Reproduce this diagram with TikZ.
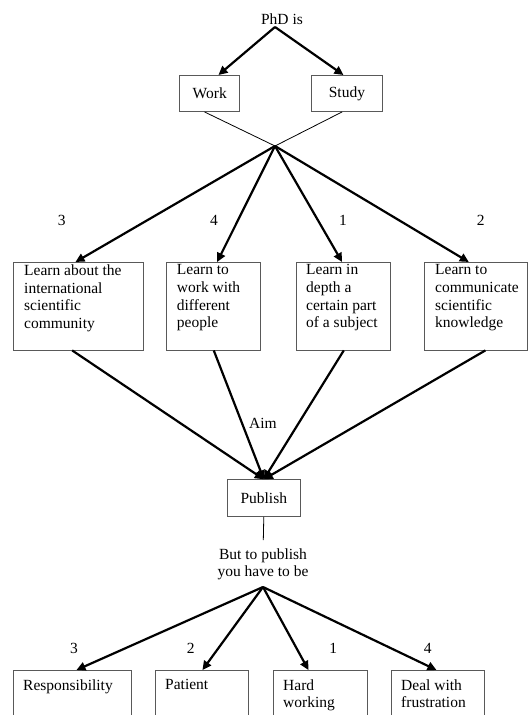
\documentclass[tikz,border=0pt]{standalone}
\usepackage{fontspec}
\setmainfont{Liberation Serif}
\usetikzlibrary{arrows.meta}
\begin{document}
\begin{tikzpicture}[x=1pt,y=-1pt,
  bx/.style={draw=black!65, line width=0.9pt, inner sep=0pt, anchor=north west, font=\fontsize{15.5}{17.6}\selectfont},
  txt/.style={inner sep=0pt, font=\fontsize{15.5}{17.6}\selectfont, align=left, anchor=north west},
  lbl/.style={inner sep=0pt, font=\fontsize{15.5}{17.6}\selectfont, anchor=base},
  arr/.style={line width=2.2pt, -{Triangle[length=9pt,width=8.5pt]}},
  thinline/.style={line width=0.8pt}]
\useasboundingbox (0,0) rectangle (528,715);
\clip (0,0) rectangle (528,715);
% top
\node[lbl] (phd) at (282,24) {PhD is};
\coordinate (h1) at (275,27);
\node[bx, minimum width=60pt, minimum height=36pt] (work) at (179.3,75) {Work};
\node[bx, minimum width=71.6pt, minimum height=36pt] (study) at (310.7,75) {Study};
\draw[arr] (h1) -- ([xshift=8.7pt]work.north);
\draw[arr] (h1) -- ([xshift=-3.5pt]study.north);
\coordinate (h2) at (275,146);
\draw[thinline] ([xshift=-5.3pt]work.south) -- (h2);
\draw[thinline] ([xshift=-4.8pt]study.south) -- (h2);
% numbers row 1
\node[lbl] (n1) at (61.7,225) {3};
\node[lbl] (n2) at (214,225) {4};
\node[lbl] (n3) at (343,225) {1};
\node[lbl] (n4) at (480.7,225) {2};
% big boxes
\node[bx, minimum width=130pt, minimum height=87.5pt] (b1) at (13.3,262) {};
\node[bx, minimum width=94.6pt, minimum height=87.5pt] (b2) at (165.7,262) {};
\node[bx, minimum width=94.3pt, minimum height=87.5pt] (b3) at (295.7,262) {};
\node[bx, minimum width=102.7pt, minimum height=87.5pt] (b4) at (424,262) {};
\node[txt] (t1) at (24,264.5) {Learn about the\\international\\scientific\\community};
\node[txt] (t2) at (176.7,264.5) {Learn to\\work with\\different\\people};
\node[txt] (t3) at (306,264.5) {Learn in\\depth a\\certain part\\of a subject};
\node[txt] (t4) at (435,264.5) {Learn to\\communicate\\scientific\\knowledge};
\draw[arr] (h2) -- ([xshift=-3.3pt]b1.north);
\draw[arr] (h2) -- ([xshift=3.7pt]b2.north);
\draw[arr] (h2) -- ([xshift=-1.2pt]b3.north);
\draw[arr] (h2) -- ([xshift=-7pt]b4.north);
% publish
\node[lbl] (aim) at (263,428) {Aim};
\node[bx, minimum width=73.3pt, minimum height=36.7pt] (pub) at (226.7,479.3) {Publish};
\draw[arr] ([xshift=-6.6pt]b1.south) -- (pub.north);
\draw[arr] ([xshift=0.3pt]b2.south) -- (pub.north);
\draw[arr] ([xshift=0.5pt]b3.south) -- (pub.north);
\draw[arr] ([xshift=9.6pt]b4.south) -- (pub.north);
\coordinate (h3) at (263.3,540);
\draw[thinline] (pub.south) -- (h3);
\node[inner sep=0pt, font=\fontsize{15.5}{17.6}\selectfont, align=center, anchor=north] (but) at (263,548.4) {But to publish\\you have to be};
\coordinate (h4) at (263,587);
% numbers row 2
\node[lbl] (m1) at (74,653) {3};
\node[lbl] (m2) at (190.7,653) {2};
\node[lbl] (m3) at (333.3,653) {1};
\node[lbl] (m4) at (427.7,653) {4};
% bottom boxes
\node[bx, minimum width=118pt, minimum height=60pt] (c1) at (13,670) {};
\node[bx, minimum width=93pt, minimum height=60pt] (c2) at (155,670) {};
\node[bx, minimum width=94pt, minimum height=60pt] (c3) at (273,670) {};
\node[bx, minimum width=93pt, minimum height=60pt] (c4) at (391,670) {};
\node[txt] (s1) at (23,679.4) {Responsibility};
\node[txt] (s2) at (165,679.4) {Patient};
\node[txt] (s3) at (283,679.4) {Hard\\working};
\node[txt] (s4) at (401,679.4) {Deal with\\frustration};
\draw[arr] (h4) -- ([xshift=4pt]c1.north);
\draw[arr] (h4) -- ([xshift=0.5pt]c2.north);
\draw[arr] (h4) -- ([xshift=-12pt]c3.north);
\draw[arr] (h4) -- ([xshift=-1.5pt]c4.north);
\end{tikzpicture}
\end{document}
